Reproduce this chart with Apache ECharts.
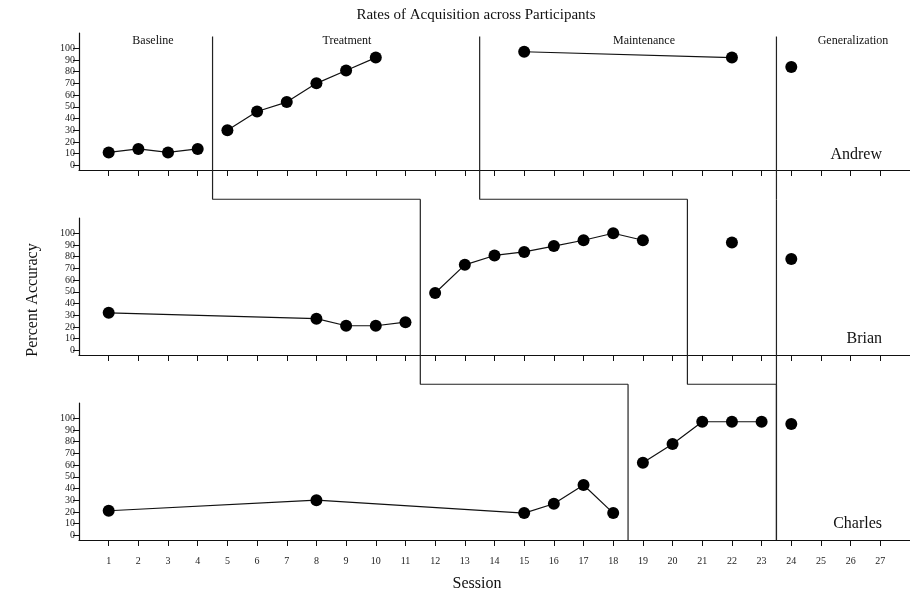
<!DOCTYPE html>
<html>
<head>
<meta charset="utf-8">
<script src="https://cdn.jsdelivr.net/npm/echarts@6/dist/echarts.min.js"></script>
<style>
  html, body { margin: 0; padding: 0; background: #fff; }
  #chart { width: 910px; height: 593px; }
</style>
</head>
<body>
<div id="chart"></div>
<script>
// Session numbers shown on the x axis
const sessionTicks = [1,2,3,4,5,6,7,8,9,10,11,12,13,14,15,16,17,18,19,20,21,22,23,24,25,26,27];
// Percent ticks on each y axis
const percentTicks = [0,10,20,30,40,50,60,70,80,90,100];

const participants = ['Andrew', 'Brian', 'Charles'];
const phaseNames = ['Baseline', 'Treatment', 'Maintenance', 'Generalization'];

// Andrew
const andrewBaselineSessions = [1, 2, 3, 4];
const andrewBaselineValues   = [11, 14, 11, 14];
const andrewTreatmentSessions = [5, 6, 7, 8, 9, 10];
const andrewTreatmentValues   = [30, 46, 54, 70, 81, 92];
const andrewMaintenanceSessions = [15, 22];
const andrewMaintenanceValues   = [97, 92];
const andrewGeneralizationSessions = [24];
const andrewGeneralizationValues   = [84];

// Brian
const brianBaselineSessions = [1, 8, 9, 10, 11];
const brianBaselineValues   = [32, 27, 21, 21, 24];
const brianTreatmentSessions = [12, 13, 14, 15, 16, 17, 18, 19];
const brianTreatmentValues   = [49, 73, 81, 84, 89, 94, 100, 94];
const brianMaintenanceSessions = [22];
const brianMaintenanceValues   = [92];
const brianGeneralizationSessions = [24];
const brianGeneralizationValues   = [78];

// Charles
const charlesBaselineSessions = [1, 8, 15, 16, 17, 18];
const charlesBaselineValues   = [21, 30, 19, 27, 43, 19];
const charlesTreatmentSessions = [19, 20, 21, 22, 23];
const charlesTreatmentValues   = [62, 78, 97, 97, 97];
const charlesGeneralizationSessions = [24];
const charlesGeneralizationValues   = [95];

// Phase-change positions (between sessions) for Andrew, Brian, Charles
const toTreatment      = [4.5, 11.5, 18.5];
const toMaintenance    = [13.5, 20.5, 23.5];
const toGeneralization = [23.5, 23.5, 23.5];

const FONT = 'Liberation Serif';
const GRID_LEFT = 79, GRID_H = 137, GRID_GAP = 48;
const GRID_TOPS = [33, 33 + GRID_H + GRID_GAP, 33 + 2 * (GRID_H + GRID_GAP)];
const Y_MIN = -4, Y_MAX = 113;
const unitsPerPx = (Y_MAX - Y_MIN) / GRID_H;
const panelPitch = (GRID_H + GRID_GAP) * unitsPerPx;
const STEP_BELOW = -29;                    // level of the staircase step under a panel
const STEP_ABOVE = STEP_BELOW + panelPitch; // same step seen from the panel below
const LINE_TOP = 110;

const pairs = (s, v) => s.map((x, i) => [x, v[i]]);

const panelData = [
  [pairs(andrewBaselineSessions, andrewBaselineValues),
   pairs(andrewTreatmentSessions, andrewTreatmentValues),
   pairs(andrewMaintenanceSessions, andrewMaintenanceValues),
   pairs(andrewGeneralizationSessions, andrewGeneralizationValues)],
  [pairs(brianBaselineSessions, brianBaselineValues),
   pairs(brianTreatmentSessions, brianTreatmentValues),
   pairs(brianMaintenanceSessions, brianMaintenanceValues),
   pairs(brianGeneralizationSessions, brianGeneralizationValues)],
  [pairs(charlesBaselineSessions, charlesBaselineValues),
   pairs(charlesTreatmentSessions, charlesTreatmentValues),
   pairs(charlesGeneralizationSessions, charlesGeneralizationValues)]
];

const grids = [], xAxes = [], yAxes = [], series = [];

GRID_TOPS.forEach((top, p) => {
  grids.push({ left: GRID_LEFT, right: 0, top: top, height: GRID_H });
  xAxes.push({
    type: 'value', gridIndex: p, min: 0, max: 28,
    axisLine: { onZero: false, lineStyle: { color: '#111', width: 1.2 } },
    axisTick: { show: true, customValues: sessionTicks, length: 6, lineStyle: { color: '#111' } },
    axisLabel: {
      show: p === 2, customValues: sessionTicks, margin: 16,
      fontFamily: FONT, fontSize: 10, color: '#222'
    },
    splitLine: { show: false }
  });
  yAxes.push({
    type: 'value', gridIndex: p, min: Y_MIN, max: Y_MAX,
    axisLine: { show: true, onZero: false, lineStyle: { color: '#111', width: 1.2 } },
    axisTick: { show: true, customValues: percentTicks, length: 6, lineStyle: { color: '#111' } },
    axisLabel: {
      customValues: percentTicks, margin: 4,
      fontFamily: FONT, fontSize: 10, color: '#222'
    },
    splitLine: { show: false }
  });

  // data paths, one per phase so the line breaks at each phase change
  panelData[p].forEach(seg => {
    series.push({
      type: 'line', xAxisIndex: p, yAxisIndex: p, data: seg,
      symbol: 'circle', symbolSize: 12,
      itemStyle: { color: '#000' },
      lineStyle: { color: '#111', width: 1.2 },
      z: 5, animation: false
    });
  });

  // staircase phase-change lines
  [toTreatment, toMaintenance, toGeneralization].forEach(change => {
    const x = change[p];
    const yTop = p === 0 ? LINE_TOP : STEP_ABOVE;
    const yBottom = p === 2 ? Y_MIN : STEP_BELOW;
    const pts = [[x, yTop], [x, yBottom]];
    if (p < 2) pts.push([change[p + 1], STEP_BELOW]);
    series.push({
      type: 'line', xAxisIndex: p, yAxisIndex: p, data: pts,
      symbol: 'none', clip: false, silent: true,
      lineStyle: { color: '#222', width: 1.2 },
      z: 3, animation: false
    });
  });
});

const text = (t, x, y, size, align, extra) => Object.assign({
  type: 'text', x: x, y: y,
  style: { text: t, font: size + 'px "' + FONT + '"', fill: '#111', align: align, verticalAlign: 'middle' }
}, extra || {});

const graphics = [
  text('Rates of Acquisition across Participants', 476, 15, 15, 'center'),
  text(phaseNames[0], 153, 41, 12, 'center'),
  text(phaseNames[1], 347, 41, 12, 'center'),
  text(phaseNames[2], 644, 41, 12, 'center'),
  text(phaseNames[3], 853, 41, 12, 'center'),
  text(participants[0], 882, 155, 16, 'right'),
  text(participants[1], 882, 339, 16, 'right'),
  text(participants[2], 882, 524, 16, 'right'),
  text('Session', 477, 584, 16, 'center'),
  text('Percent Accuracy', 33, 300, 16, 'center', { rotation: Math.PI / 2 })
];

const chart = echarts.init(document.getElementById('chart'), null, { renderer: 'canvas' });
chart.setOption({
  backgroundColor: '#fff',
  animation: false,
  grid: grids,
  xAxis: xAxes,
  yAxis: yAxes,
  series: series,
  graphic: graphics
});
</script>
</body>
</html>
